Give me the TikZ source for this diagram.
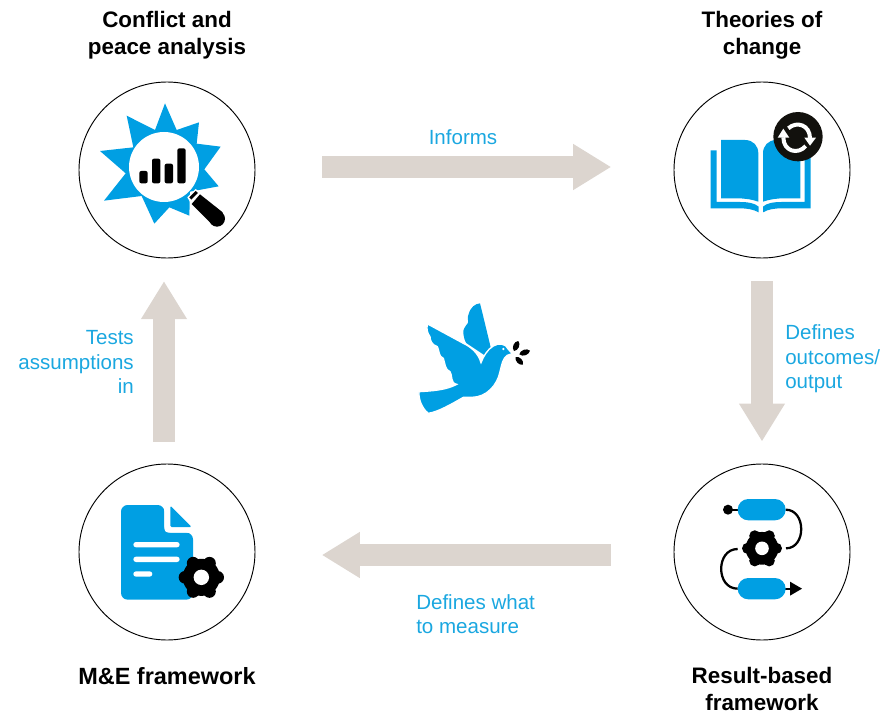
\documentclass[tikz,border=0pt]{standalone}
\usepackage{xcolor}
\usepackage{fontspec}
\setmainfont{Liberation Sans}
\usepackage{tikz}
\usetikzlibrary{arrows.meta}
\usetikzlibrary{calc}
\definecolor{skyblue}{HTML}{009FE3}
\definecolor{labelblue}{HTML}{1AA7E0}
\definecolor{stone}{HTML}{DCD5CF}
\definecolor{inkblack}{HTML}{12110D}
\tikzstyle{hub} = [circle, minimum size=132pt, inner sep=0pt, draw=black, line width=.7pt]
\tikzstyle{heading} = [align=center, font=\bfseries\fontsize{16.8}{19.9}\selectfont, text=black, inner sep=0pt]
\tikzstyle{flowlabel} = [font=\fontsize{15.4}{18.4}\selectfont, text=labelblue, inner sep=0pt]
\tikzstyle{flow} = [line width=16.5pt, draw=stone, -{Triangle[width=32.5pt,length=28.5pt]}]
\tikzstyle{wire} = [black, line width=1.7pt]
\newcommand{\cogwheel}[3]{% centre x, centre y, size
  \fill[black] (#1,#2) circle (#3*.82);
  \foreach \a in {0,60,...,300}
    \fill[black] ($(#1,#2)+(\a:#3*.72)$) circle (#3*.28);
  \fill[white] (#1,#2) circle (#3*.34);
}
\begin{document}
\begin{tikzpicture}[x=.75pt,y=-.75pt,node distance=1cm]
                 \useasboundingbox (0,0) rectangle (889,717);
                 \node (ca) [hub] at (167,170) {};
                 \node (tc) [hub, right of=ca, node distance=446.25pt] {};
                 \node (rf) [hub, below of=tc, node distance=286.5pt] {};
                 \node (me) [hub, left of=rf, node distance=446.25pt] {};
                 \node (cat) [heading, above of=ca, node distance=101.25pt] {Conflict and\\peace analysis};
                 \node (tct) [heading, above of=tc, node distance=101.25pt] {Theories of\\change};
                 \node (rft) [heading, below of=rf, node distance=102.75pt] {Result-based\\framework};
                 \node (met) [heading, font=\bfseries\fontsize{17.6}{19.9}\selectfont, below of=me, node distance=93pt] {M\&E framework};
                 \draw [flow, shorten <=50.25pt, shorten >=46.75pt] ([yshift=2.25pt]ca.east) -- ([yshift=2.25pt]tc.west);
                 \draw [flow, shorten <=17pt, shorten >=16.5pt] (tc.south) -- (rf.north);
                 \draw [flow, shorten <=47.25pt, shorten >=49.75pt] ([yshift=-2.25pt]rf.west) -- ([yshift=-2.25pt]me.east);
                 \draw [flow, shorten <=16.5pt, shorten >=17pt] ([xshift=-2.25pt]me.north) -- ([xshift=-2.25pt]ca.south);
                 \node (informs) [flowlabel] at (463,137) {Informs};
                 \node (defines) [flowlabel, align=left, anchor=west] at (785,359) {Defines\\outcomes/\\output};
                 \node (measure) [flowlabel, align=left, anchor=west] at (416,614) {Defines what\\to measure};
                 \node (tests) [flowlabel, align=right, anchor=east] at (134,362) {Tests\\assumptions\\in};
                 % conflict icon
                 \begin{scope}[shift={(70,70)},scale=1/3]
                 \fill[skyblue] (285,100) -- (320,180) -- (387,157) -- (380,221) -- (452,230) -- (403,298) -- (446,349) -- (360,365)
                   -- (358,437) -- (298,412) -- (253,461) -- (215,378) -- (102,392) -- (167,310) -- (90,243) -- (190,232) -- (170,137) -- (255,180) -- cycle;
                 \fill[white] (282,291) circle (105);
                 \foreach \xa/\ya in {208/303,246/266,284/281,322/235}
                   \fill[black, rounded corners=1.5pt] (\xa,\ya) rectangle (\xa+25,340);
                 \fill[white] (352,382) -- (377,357) -- (400,375) -- (370,412) -- cycle;
                 \fill[black] (358,382) -- (377,363) -- (384,369) -- (364,389) -- cycle;
                 \fill[black] (390,373) -- (458,427) -- (426,463) -- (365,402) -- cycle;
                 \fill[black] (441,446) circle (24);
                 \end{scope}
                 % book icon
                 \begin{scope}[shift={(665,70)},scale=1/3]
                 \fill[skyblue] (137,241) -- (155,241) -- (155,396) -- (225,396) .. controls (250,396) and (270,400) .. (281,410) -- (281,427) .. controls (265,418) and (245,415) .. (225,415) -- (137,415) -- cycle;
                 \fill[skyblue] (437,241) -- (419,241) -- (419,396) -- (349,396) .. controls (324,396) and (304,400) .. (294,410) -- (294,427) .. controls (309,418) and (329,415) .. (349,415) -- (437,415) -- cycle;
                 \fill[skyblue] (168,210) -- (240,210) .. controls (265,210) and (280,228) .. (280,250) -- (280,395) .. controls (260,388) and (240,385) .. (215,385) -- (168,385) -- cycle;
                 \fill[skyblue] (406,210) -- (334,210) .. controls (309,210) and (294,228) .. (294,250) -- (294,395) .. controls (314,388) and (334,385) .. (359,385) -- (406,385) -- cycle;
                 \fill[inkblack] (399,200) circle (74);
                 \draw[white, line width=3pt] (370,175) .. controls (395,152) and (435,165) .. (435,205);
                 \draw[white, line width=3pt] (355,202) .. controls (355,245) and (400,255) .. (422,228);
                 \fill[white] (338,203) -- (373,203) -- (355,176) -- cycle;
                 \fill[white] (418,203) -- (453,203) -- (435,227) -- cycle;
                 \end{scope}
                 % framework icon
                 \begin{scope}[shift={(70,465)},scale=1/3]
                 \fill[skyblue, rounded corners=5pt] (153,120) -- (283,120) -- (283,203) -- (369,203) -- (369,404) -- (153,404) -- cycle;
                 \fill[white, rounded corners=3pt] (283,115) -- (283,203) -- (375,203) -- (375,115) -- cycle;
                 \fill[skyblue, rounded corners=1pt] (301,122) -- (365,186) -- (301,186) -- cycle;
                 \foreach \ya/\xb in {231/329,275/329,319/247}
                   \fill[white, rounded corners=2pt] (190,\ya) rectangle (\xb,\ya+16);
                 \cogwheel{394}{337}{68}
                 \end{scope}
                 % process icon
                 \begin{scope}[shift={(665,465)},scale=1/3]
                 \draw[wire] (189,134) -- (230,134);
                 \fill[black] (189,134) circle (15);
                 \draw[wire] (362,134) .. controls (424,134) and (424,250) .. (363,250);
                 \draw[wire] (218,252) .. controls (152,252) and (152,371) .. (218,371);
                 \draw[wire] (350,371) -- (380,371);
                 \fill[black] (375,350) -- (411,371) -- (375,392) -- cycle;
                 \fill[skyblue, rounded corners=8pt] (218,102) rectangle (362,166);
                 \fill[skyblue, rounded corners=8pt] (218,339) rectangle (362,403);
                 \cogwheel{291}{250}{60}
                 \end{scope}
                 % dove
                 \begin{scope}[shift={(400,290)},scale=1/3]
                 \fill[skyblue] (240,40) .. controls (225,42) and (212,50) .. (205,75) .. controls (200,85) and (208,95) .. (203,100) .. controls (195,110) and (188,120) .. (190,130) .. controls (192,145) and (195,155) .. (200,160) -- (260,200) -- (272,172) .. controls (262,130) and (250,80) .. (240,40) -- cycle;
                 \fill[skyblue, draw=white, line width=1pt] (83,102) -- (190,160) .. controls (215,172) and (235,190) .. (243,218) .. controls (250,200) and (262,178) .. (280,168) .. controls (295,158) and (318,160) .. (325,178) -- (337,191) -- (322,196)
                   .. controls (308,205) and (305,225) .. (300,245) .. controls (292,285) and (260,322) .. (215,322) -- (190,322) .. controls (150,345) and (115,365) .. (85,370) .. controls (65,355) and (55,325) .. (57,305) .. controls (95,303) and (140,300) .. (170,283)
                   .. controls (150,280) and (158,255) .. (150,245) .. controls (135,240) and (135,220) .. (130,205) .. controls (115,200) and (118,180) .. (112,170) .. controls (95,165) and (90,150) .. (90,140) .. controls (82,130) and (78,115) .. (83,102) -- cycle;
                 \fill[white] (310,177) circle (4);
                 \fill[black] (342,183) to[bend left=65] (355,153) to[bend left=65] (342,183);
                 \fill[black] (358,193) to[bend left=60] (390,182) to[bend left=60] (358,193);
                 \fill[black] (347,201) to[bend left=60] (369,224) to[bend left=60] (347,201);
                 \end{scope}
             \end{tikzpicture}
\end{document}
